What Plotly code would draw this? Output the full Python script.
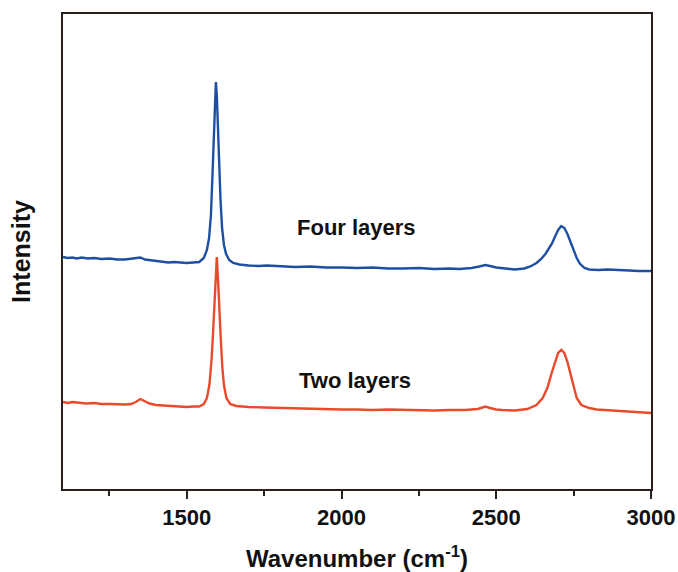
import plotly.graph_objects as go

# Raman spectra (intensity in arbitrary units)
four_wn = [1100, 1115, 1130, 1145, 1160, 1180, 1200, 1225, 1250, 1275, 1300, 1320, 1335, 1350, 1365,
           1380, 1400, 1420, 1440, 1460, 1480, 1500, 1520, 1540, 1555, 1565, 1572, 1578, 1583, 1588,
           1592, 1594, 1597, 1601, 1605, 1609, 1614, 1620, 1627, 1637, 1650, 1670, 1700, 1730, 1760,
           1800, 1850, 1900, 1950, 2000, 2050, 2100, 2150, 2200, 2250, 2300, 2350, 2380, 2420, 2445,
           2465, 2480, 2500, 2530, 2560, 2590, 2610, 2630, 2645, 2660, 2670, 2680, 2690, 2700, 2710,
           2720, 2730, 2740, 2750, 2760, 2770, 2785, 2800, 2830, 2860, 2900, 2930, 2960, 3000]
four_int = [232.0, 231.0, 231.5, 230.5, 231.5, 230.5, 231.0, 230.0, 230.5, 229.5, 229.5, 230.0, 230.5, 231.5, 229.5,
            229.0, 228.0, 227.5, 226.5, 227.0, 226.5, 226.0, 226.5, 227.0, 231.0, 239.0, 251.0, 274.0, 314.0, 364.0,
            399.0, 407.0, 394.0, 354.0, 319.0, 289.0, 261.0, 244.0, 235.0, 229.0, 226.0, 224.5, 223.5, 223.0, 223.5,
            222.5, 222.0, 222.5, 221.5, 221.5, 221.0, 221.5, 220.5, 220.5, 221.0, 220.0, 220.5, 220.0, 221.0, 222.5,
            224.0, 223.0, 221.5, 220.5, 219.5, 220.5, 222.5, 226.0, 230.0, 235.5, 240.0, 245.5, 252.5, 259.0, 263.0,
            261.0, 255.0, 247.0, 239.0, 231.0, 225.5, 221.0, 219.5, 219.0, 219.5, 218.5, 218.5, 218.0, 218.0]

two_wn = [1100, 1115, 1130, 1150, 1175, 1200, 1225, 1250, 1275, 1300, 1320, 1335, 1350, 1365, 1380,
          1400, 1425, 1450, 1475, 1500, 1520, 1540, 1555, 1565, 1573, 1580, 1585, 1590, 1594, 1597,
          1601, 1606, 1610, 1615, 1620, 1628, 1640, 1660, 1680, 1700, 1750, 1800, 1850, 1900, 1950,
          2000, 2050, 2100, 2150, 2200, 2250, 2300, 2350, 2400, 2440, 2465, 2480, 2500, 2520, 2560,
          2600, 2630, 2650, 2665, 2680, 2690, 2700, 2710, 2720, 2730, 2740, 2750, 2760, 2775, 2800,
          2825, 2850, 2875, 2900, 2925, 2950, 2975, 3000]
two_int = [87.0, 86.0, 87.0, 86.0, 85.5, 86.0, 85.0, 85.0, 84.5, 84.5, 85.0, 87.0, 90.0, 87.5, 85.5,
           84.0, 83.5, 83.0, 82.5, 82.0, 82.5, 82.5, 85.0, 91.0, 104.0, 129.0, 157.0, 194.0, 225.0, 232.0,
           209.0, 171.0, 149.0, 121.0, 104.0, 91.0, 85.0, 83.0, 82.5, 82.0, 81.5, 81.0, 80.5, 80.0, 80.0,
           79.5, 79.5, 79.0, 79.5, 79.0, 78.5, 78.5, 79.0, 79.0, 80.0, 82.5, 81.0, 79.5, 79.0, 78.5,
           80.0, 84.0, 91.0, 101.0, 117.0, 127.0, 136.0, 139.0, 136.0, 127.0, 114.0, 101.0, 91.0, 84.0, 81.0,
           79.5, 79.0, 78.5, 78.0, 77.5, 77.0, 76.5, 76.0]

labels = ["Four layers", "Two layers"]
label_x = [2048, 2042]
label_y = [262, 109]

x_ticks = [1500, 2000, 2500, 3000]
x_range = [1100, 3000]
y_range = [0, 475]

FONT = "Arial, Liberation Sans, sans-serif"

fig = go.Figure()
fig.add_trace(go.Scatter(x=four_wn, y=four_int, mode="lines", name="Four layers",
                         line=dict(color="#1e4fa3", width=2.4)))
fig.add_trace(go.Scatter(x=two_wn, y=two_int, mode="lines", name="Two layers",
                         line=dict(color="#ea4a2c", width=2.4)))

for t, xv, yv in zip(labels, label_x, label_y):
    fig.add_annotation(x=xv, y=yv, text="<b>%s</b>" % t, showarrow=False,
                       font=dict(family=FONT, size=22, color="#111111"),
                       xanchor="center", yanchor="middle")

fig.update_layout(
    width=678, height=572,
    margin=dict(l=63, r=27, t=14, b=83),
    paper_bgcolor="white", plot_bgcolor="white",
    showlegend=False,
    font=dict(family=FONT, color="#111111"),
)
fig.update_xaxes(
    range=x_range, tickvals=x_ticks, ticktext=[str(v) for v in x_ticks],
    automargin=False,
    ticks="outside", ticklen=8, tickwidth=1.5, tickcolor="#222222",
    minor=dict(ticks="outside", ticklen=5, tickwidth=1.5, tickcolor="#222222", dtick=250, tick0=1000),
    showline=True, linecolor="#2a1f1a", linewidth=1.5, mirror=True,
    showgrid=False, zeroline=False,
    tickfont=dict(family=FONT, size=22, color="#111111", weight="bold"),
    title=dict(text="<b>Wavenumber (cm<sup>-1</sup>)</b>", font=dict(family=FONT, size=24, color="#111111"),
               standoff=22),
)
fig.update_yaxes(
    range=y_range, showticklabels=False, ticks="",
    automargin=False,
    showline=True, linecolor="#2a1f1a", linewidth=1.5, mirror=True,
    showgrid=False, zeroline=False,
    title=dict(text="<b>Intensity</b>", font=dict(family=FONT, size=25, color="#111111"), standoff=24),
)

fig.write_html("out.html")
